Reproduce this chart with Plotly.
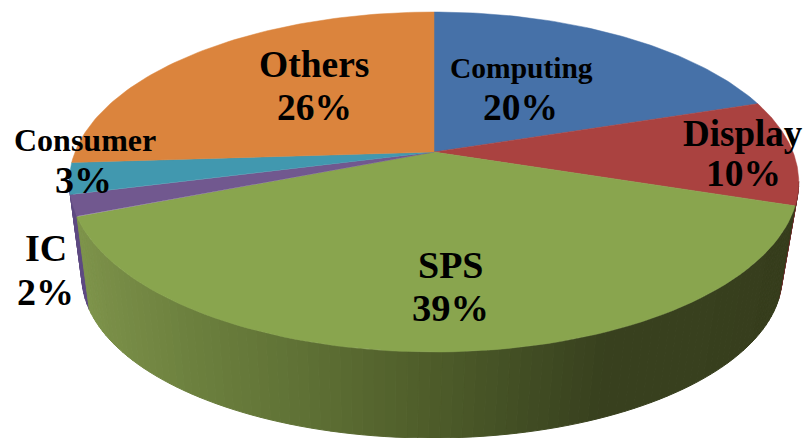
import numpy as np
import plotly.graph_objects as go

categories = ["Computing", "Display", "SPS", "IC", "Consumer", "Others"]
values = [20, 10, 39, 2, 3, 26]
percent_labels = ["20%", "10%", "39%", "2%", "3%", "26%"]
top_colors = ["#4671A8", "#AA4240", "#89A54E", "#71588F", "#4198AF", "#DB843D"]
side_colors = ["#2E4A70", "#6E2B2A", "#89A54E", "#5E4A82", "#5E4A82", "#90572A"]

# label placement (pixel coordinates): name line, then percent line
name_pos = [(521, 68), (743, 133), (450, 265), (46, 248), (85, 140), (314, 64)]
pct_pos = [(520, 107), (743, 173), (450, 308), (45, 292), (83, 180), (314, 107)]
name_size = [29.5, 37, 38, 38, 32, 37.5]
pct_size = [37.5, 37.5, 38.5, 38, 38, 37.5]

# projection of the tilted disc
CX, CY = 434.0, 152.0
A, B, K = 359.0, 164.7, 0.1765
SCALE_X, SCALE_Y, DROP, SHIFT = 0.96, 0.95, 96.0, -2.0

# green wall shading anchors: (screen x, rgb)
wall_x = [80, 110, 200, 300, 434, 520, 600, 700, 800]
wall_r = [128, 122, 108, 96, 78, 66, 56, 56, 54]
wall_g = [150, 143, 128, 114, 92, 78, 64, 64, 60]
wall_b = [76, 72, 62, 54, 42, 36, 30, 30, 28]


def top(theta):
    u, v = np.sin(theta), np.cos(theta)
    w = 1 + K * v
    return CX + A * u / w, CY - B * v / w


def bottom(theta):
    x, y = top(theta)
    return CX + SHIFT + SCALE_X * (x - CX), CY + SCALE_Y * (y - CY) + DROP


fig = go.Figure()
edges = np.cumsum([0] + values) / sum(values) * 2 * np.pi
VIS_START, VIS_END = np.radians(100), np.radians(263)

# side wall: the rear-most visible slices are drawn first
for i in [4, 3, 1, 2]:
    a0, a1 = max(edges[i], VIS_START), min(edges[i + 1], VIS_END)
    if a1 <= a0:
        continue
    n = max(1, int((a1 - a0) / np.radians(1.5)))
    steps = np.linspace(a0, a1, n + 1)
    for s0, s1 in zip(steps[:-1], steps[1:]):
        t = np.linspace(s0, s1, 4)
        xt, yt = top(t)
        xb, yb = bottom(t)
        xs = np.r_[xt, xb[::-1], xt[0]]
        ys = np.r_[yt, yb[::-1], yt[0]]
        if categories[i] == "SPS":
            mx = xb.mean()
            c = "rgb(%d,%d,%d)" % (
                np.interp(mx, wall_x, wall_r),
                np.interp(mx, wall_x, wall_g),
                np.interp(mx, wall_x, wall_b),
            )
        else:
            c = side_colors[i]
        fig.add_trace(go.Scatter(x=xs, y=ys, mode="lines", fill="toself", fillcolor=c,
                                 line=dict(color=c, width=1), hoverinfo="skip", showlegend=False))

# top face
for i, cat in enumerate(categories):
    t = np.linspace(edges[i], edges[i + 1], 80)
    xt, yt = top(t)
    xs = np.r_[CX, xt, CX]
    ys = np.r_[CY, yt, CY]
    fig.add_trace(go.Scatter(x=xs, y=ys, mode="lines", fill="toself", fillcolor=top_colors[i],
                             line=dict(color=top_colors[i], width=0.5), name=cat,
                             hoverinfo="skip", showlegend=False))

# labels
for i, cat in enumerate(categories):
    for txt, (px, py), sz in ((cat, name_pos[i], name_size[i]), (percent_labels[i], pct_pos[i], pct_size[i])):
        fig.add_annotation(x=px, y=py, text="<b>%s</b>" % txt, showarrow=False, xanchor="center", yanchor="middle",
                           font=dict(family="Liberation Serif", size=sz, color="#000000"))

fig.update_layout(
    width=805, height=438, autosize=False, margin=dict(l=0, r=0, t=0, b=0),
    paper_bgcolor="white", plot_bgcolor="white", showlegend=False,
    xaxis=dict(range=[0, 805], visible=False, fixedrange=True),
    yaxis=dict(range=[438, 0], visible=False, fixedrange=True),
)
fig.write_html("out.html", config={"displayModeBar": False}, post_script="document.body.style.margin='0';document.body.style.overflow='hidden';")
